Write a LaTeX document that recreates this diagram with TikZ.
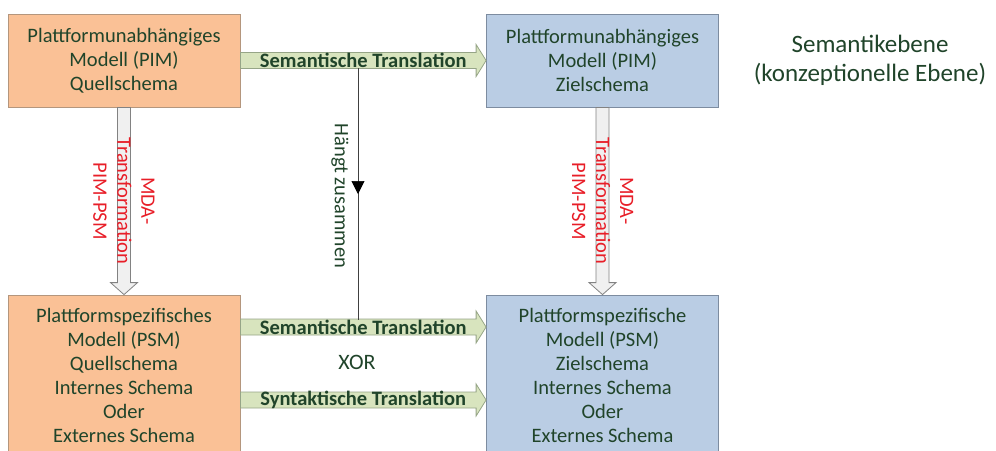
\documentclass[tikz,border=0pt]{standalone}
\usepackage{fontspec}
\setmainfont{Carlito}
\usetikzlibrary{calc,decorations.markings,arrows.meta}

\definecolor{srcfill}{RGB}{250,193,150}
\definecolor{srcline}{RGB}{180,150,125}
\definecolor{tgtfill}{RGB}{186,205,228}
\definecolor{tgtline}{RGB}{125,140,160}
\definecolor{txtgreen}{RGB}{32,68,42}
\definecolor{arrfill}{RGB}{216,228,190}
\definecolor{arrline}{RGB}{150,165,135}
\definecolor{mdafill}{RGB}{240,240,240}
\definecolor{mdaline}{RGB}{130,130,130}
\definecolor{mdared}{RGB}{232,30,40}

\begin{document}
\begin{tikzpicture}[x=1pt,y=-1pt,
  boxtext/.style={align=center,text=txtgreen,font=\fontsize{20.5}{24}\selectfont},
  srcbox/.style={boxtext,draw=srcline,fill=srcfill,line width=0.8pt,
    minimum width=232pt,inner sep=0pt},
  tgtbox/.style={boxtext,draw=tgtline,fill=tgtfill,line width=0.8pt,
    minimum width=232pt,inner sep=0pt},
  translbl/.style={text=txtgreen,font=\fontsize{20.5}{22}\selectfont\bfseries,inner sep=0pt},
  mdalbl/.style={align=center,text=mdared,rotate=-90,font=\fontsize{20.5}{24}\selectfont},
  hblock/.style={draw=arrline,fill=arrfill,line width=0.8pt,
    to path={([yshift=8pt]\tikztostart) -- ([xshift=-10pt,yshift=8pt]\tikztotarget)
      -- ([xshift=-10pt,yshift=16pt]\tikztotarget) -- (\tikztotarget)
      -- ([xshift=-10pt,yshift=-16pt]\tikztotarget) -- ([xshift=-10pt,yshift=-8pt]\tikztotarget)
      -- ([yshift=-8pt]\tikztostart) -- cycle}},
  vblock/.style={draw=mdaline,fill=mdafill,line width=0.8pt,
    to path={([xshift=-6.5pt]\tikztostart) -- ([xshift=-6.5pt,yshift=12pt]\tikztotarget)
      -- ([xshift=-13.5pt,yshift=12pt]\tikztotarget) -- (\tikztotarget)
      -- ([xshift=13.5pt,yshift=12pt]\tikztotarget) -- ([xshift=6.5pt,yshift=12pt]\tikztotarget)
      -- ([xshift=6.5pt]\tikztostart) -- cycle}},
  linkline/.style={draw=black!75,line width=0.7pt,postaction={decorate},
    decoration={markings,mark=at position 0.5 with
      {\arrow[black]{Triangle[length=13pt,width=13pt]}}}}
]
\useasboundingbox (0,0) rectangle (996,450);
\clip (0,0) rectangle (996,450);

% model boxes
\node[srcbox,minimum height=93pt] (pimq) at (124,60.5)
  {Plattformunabhängiges\\Modell (PIM)\\Quellschema};
\node[tgtbox,minimum height=93pt] (pimz) at (602.5,60.5)
  {Plattformunabhängiges\\Modell (PIM)\\Zielschema};
\node[srcbox,minimum height=160pt] (psmq) at (124,375)
  {Plattformspezifisches\\Modell (PSM)\\Quellschema\\Internes Schema\\Oder\\Externes Schema};
\node[tgtbox,minimum height=160pt] (psmz) at (602.5,375)
  {Plattformspezifische\\Modell (PSM)\\Zielschema\\Internes Schema\\Oder\\Externes Schema};

% level caption
\node[align=center,text=txtgreen,font=\fontsize{25}{29}\selectfont] (level) at (870,60)
  {Semantikebene\\(konzeptionelle Ebene)};

% rows of the lower translation arrows
\path (psmq.east |- 0,327) coordinate (semA) (psmz.west |- 0,327) coordinate (semB);
\path (psmq.east |- 0,400) coordinate (synA) (psmz.west |- 0,400) coordinate (synB);

% translation arrows
\draw[hblock] (pimq.east) to (pimz.west);
\draw[hblock] (semA) to (semB);
\draw[hblock] (synA) to (synB);
\node[translbl] (tr1) at ($(pimq.east)!0.5!(pimz.west)$) {Semantische Translation};
\node[translbl] (tr2) at ($(semA)!0.5!(semB)$) {Semantische Translation};
\node[translbl] (tr3) at ($(synA)!0.5!(synB)$) {Syntaktische Translation};
\node[text=txtgreen,font=\fontsize{22}{24}\selectfont] (xor) at (357,362) {XOR};

% MDA transformations
\draw[vblock] (pimq.south) to (psmq.north);
\draw[vblock] (pimz.south) to (psmz.north);
\node[mdalbl] (mda1) at (124,201) {MDA-\\Transformation\\PIM-PSM};
\node[mdalbl] (mda2) at (602.5,201) {MDA-\\Transformation\\PIM-PSM};

% dependency between the two translations
\coordinate (dep1) at (358,68);
\coordinate (dep2) at (358,320);
\draw[linkline] (dep1) -- (dep2);
\node[rotate=-90,text=txtgreen,font=\fontsize{20.5}{24}\selectfont] (dep) at (340,196) {Hängt zusammen};
\end{tikzpicture}
\end{document}
